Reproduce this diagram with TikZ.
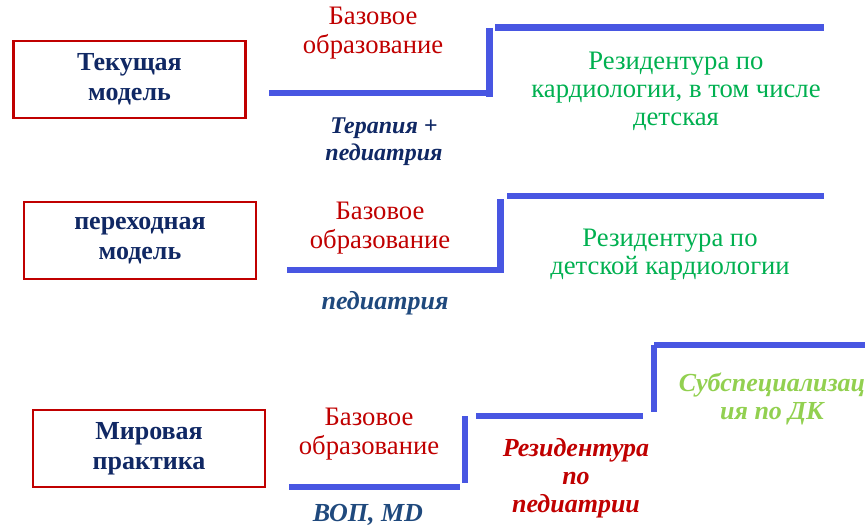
\documentclass[tikz,border=0pt]{standalone}
\usepackage{fontspec}
\setmainfont{Liberation Serif}
\definecolor{boxred}{RGB}{192,0,0}
\definecolor{navy}{RGB}{16,40,100}
\definecolor{midblue}{RGB}{31,73,125}
\definecolor{stepblue}{RGB}{72,86,226}
\definecolor{txtred}{RGB}{192,0,0}
\definecolor{txtgreen}{RGB}{0,176,80}
\definecolor{lightgreen}{RGB}{146,208,80}
\begin{document}
\begin{tikzpicture}[x=0.75pt,y=-0.75pt,
  modelbox/.style={draw=boxred,line width=1.6pt,minimum width=174pt,minimum height=58pt,
    inner sep=0pt,align=center,text=navy,font=\fontsize{19.5}{22.5}\selectfont\bfseries},
  basetext/.style={align=center,text=txtred,font=\fontsize{20}{21.8}\selectfont},
  undertext/.style={align=center,font=\fontsize{19.5}{21}\selectfont\bfseries\itshape},
  restext/.style={align=center,text=txtgreen,font=\fontsize{20}{21}\selectfont},
  stepline/.style={draw=stepblue,line width=4.8pt,line cap=butt}]
\useasboundingbox (0,0) rectangle (867,528);

% Row 1
\node[modelbox] (m1) at (129.5,79.5) {Текущая\\модель};
\node[basetext] (b1) at (373,33) {Базовое\\образование};
\node[undertext,text=navy,font=\fontsize{18}{20.5}\selectfont\bfseries\itshape] (u1) at (384,142) {Терапия +\\педиатрия};
\node[restext] (r1) at (676,91) {Резидентура по\\кардиологии, в том числе\\детская};
\coordinate (a1) at (269,93);
\coordinate (a2) at (486,93);
\coordinate (a3) at (489.5,28);
\coordinate (a4) at (489.5,97);
\coordinate (a5) at (495,27.5);
\coordinate (a6) at (824,27.5);
\path[stepline] (a1) -- (a2) (a3) -- (a4) (a5) -- (a6);

% Row 2
\node[modelbox] (m2) at (140,240.5) {переходная\\модель};
\node[basetext] (b2) at (380,228) {Базовое\\образование};
\node[undertext,text=midblue] (u2) at (385,303) {педиатрия};
\node[restext] (r2) at (670,255) {Резидентура по\\детской кардиологии};
\coordinate (c1) at (287,270);
\coordinate (c2) at (502,270);
\coordinate (c3) at (500.5,199);
\coordinate (c4) at (500.5,273);
\coordinate (c5) at (507,196);
\coordinate (c6) at (824,196);
\path[stepline] (c1) -- (c2) (c3) -- (c4) (c5) -- (c6);

% Row 3
\node[modelbox] (m3) at (149,448.5) {Мировая\\практика};
\node[basetext] (b3) at (369,434) {Базовое\\образование};
\node[undertext,text=midblue] (u3) at (368,515) {ВОП, MD};
\node[undertext,text=txtred] (u4) at (576,478) {Резидентура\\по\\педиатрии};
\node[undertext,text=lightgreen] (u5) at (772,399) {Субспециализац\\ия по ДК};
\coordinate (d1) at (289,487);
\coordinate (d2) at (460,487);
\coordinate (d3) at (465,416);
\coordinate (d4) at (465,483);
\coordinate (d5) at (476,416);
\coordinate (d6) at (643,416);
\coordinate (d7) at (653.7,345);
\coordinate (d8) at (653.7,412);
\coordinate (d9) at (654,345);
\coordinate (d10) at (865,345);
\path[stepline] (d1) -- (d2) (d3) -- (d4) (d5) -- (d6) (d7) -- (d8) (d9) -- (d10);
\end{tikzpicture}
\end{document}
